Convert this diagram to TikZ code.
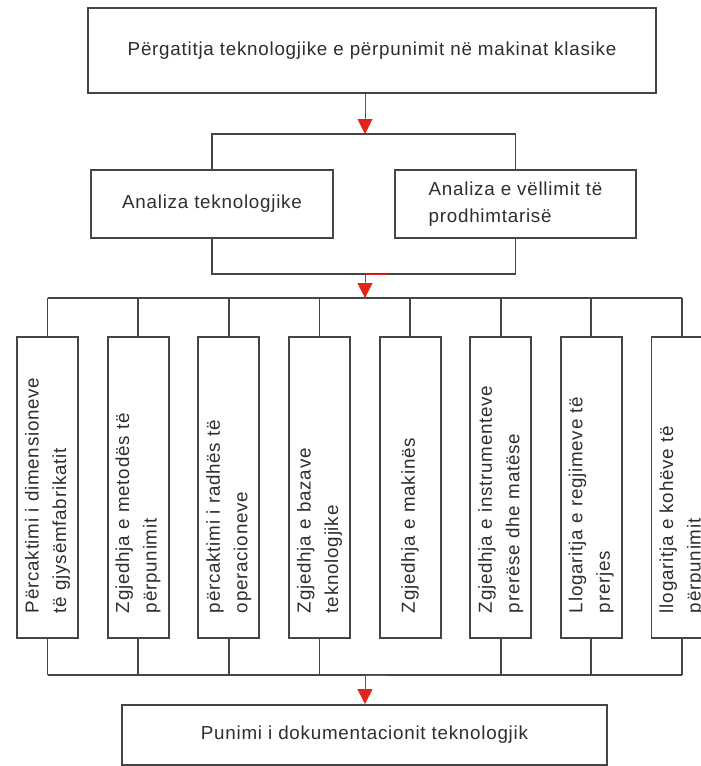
\documentclass[tikz,border=0pt]{standalone}
\usepackage{fontspec}
\setmainfont[LetterSpace=4]{Liberation Sans}
\usetikzlibrary{arrows.meta}
\definecolor{linegray}{HTML}{454545}
\definecolor{textgray}{HTML}{2E2E2E}
\definecolor{flowred}{HTML}{E3241B}
\begin{document}
\begin{tikzpicture}[x=1pt,y=-1pt,
  box/.style={draw=linegray, line width=1.8pt, fill=white, text=textgray,
    font=\fontsize{18.8}{27.5}\selectfont, inner sep=0pt},
  vbox/.style={box, rotate=90, minimum width=301pt, minimum height=61pt,
    text width=251pt, inner xsep=25pt, inner ysep=0pt, align=left},
  link/.style={draw=linegray, line width=1.8pt},
  flow/.style={draw=flowred, line width=1pt, -{Triangle[width=15pt,length=15pt]}},
]
\useasboundingbox (0,0) rectangle (701,766);
\clip (0,0) rectangle (701,766);

% top level task
\node[box, minimum width=568pt, minimum height=85pt] (top) at (372,50.5)
  {Përgatitja teknologjike e përpunimit në makinat klasike};

% analysis stage
\node[box, minimum width=242pt, minimum height=68pt] (tech) at (212,204)
  {Analiza teknologjike};
\node[box, minimum width=241pt, minimum height=68pt, align=left] (vol) at (515.5,204)
  {Analiza e vëllimit të\\prodhimtarisë};

\coordinate (splitA) at (365,134);
\coordinate (joinA) at (365,274);
\coordinate (joinAtick) at (387,274);
\coordinate (busTop) at (365,298);
\coordinate (busBot) at (365,675);
\coordinate (busBotTick) at (387,675);

\draw[link] (tech.north) -- (tech.north |- splitA) -- (vol.north |- splitA) -- (vol.north);
\draw[link] (tech.south) -- (tech.south |- joinA) -- (vol.south |- joinA) -- (vol.south);
\draw[flow] (top.south -| splitA) -- (splitA);

% detailed steps
\node[vbox] (s1) at (47.5,487.5)  {Përcaktimi i dimensioneve\\të gjysëmfabrikatit};
\node[vbox] (s2) at (138.1,487.5) {Zgjedhja e metodës të\\përpunimit};
\node[vbox] (s3) at (228.8,487.5) {përcaktimi i radhës të\\operacioneve};
\node[vbox] (s4) at (319.4,487.5) {Zgjedhja e bazave\\teknologjike};
\node[vbox] (s5) at (410.1,487.5) {Zgjedhja e makinës};
\node[vbox] (s6) at (500.7,487.5) {Zgjedhja e instrumenteve\\prerëse dhe matëse};
\node[vbox] (s7) at (591.3,487.5) {Llogaritja e regjimeve të\\prerjes};
\node[vbox] (s8) at (682,487.5)   {llogaritja e kohëve të\\përpunimit};

\draw[link] (s1.east |- busTop) -- (s8.east |- busTop);
\foreach \i in {1,...,8} \draw[link] (s\i.east) -- (s\i.east |- busTop);
\draw[link] (s1.west |- busBot) -- (s8.west |- busBot);
\foreach \i in {1,2,3,4,6,7,8} \draw[link] (s\i.west) -- (s\i.west |- busBot);

\draw[flow] (joinAtick) -- (joinA) -- (busTop);

% final document
\node[box, minimum width=485pt, minimum height=60pt] (doc) at (364.5,735)
  {Punimi i dokumentacionit teknologjik};
\draw[flow] (busBotTick) -- (busBot) -- (doc.north -| busBot);
\end{tikzpicture}
\end{document}
